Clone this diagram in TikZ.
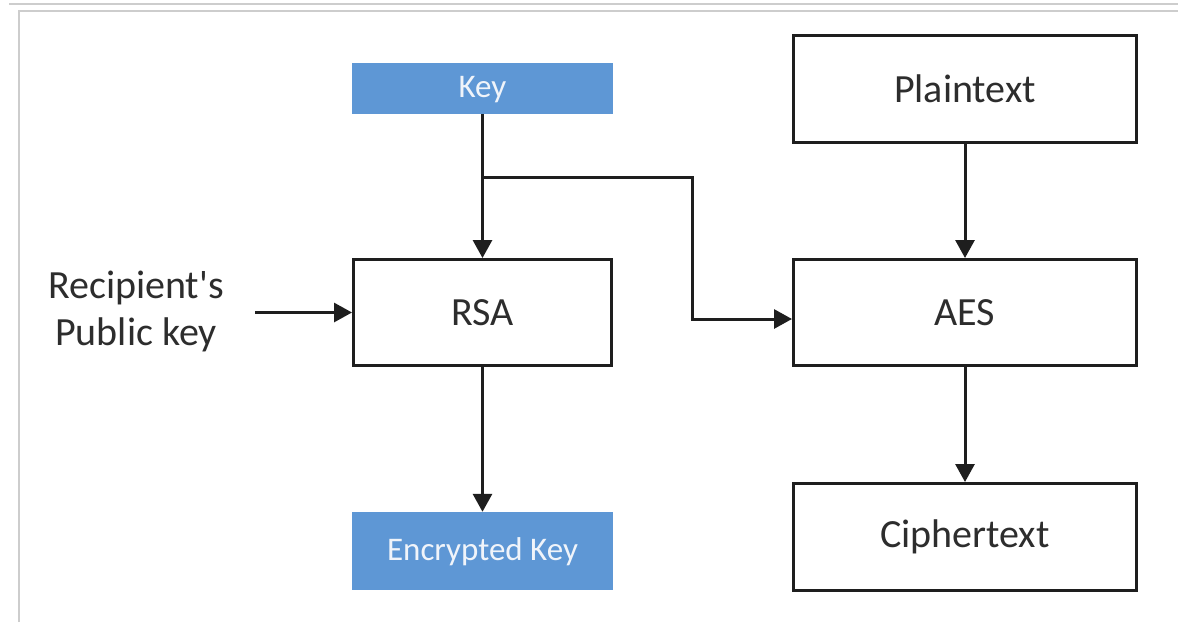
\documentclass[tikz,border=0pt]{standalone}
\usepackage{fontspec}
\setmainfont{Carlito}
\usetikzlibrary{arrows.meta}
\definecolor{keyblue}{RGB}{94,151,213}
\definecolor{edge}{RGB}{30,30,30}
\definecolor{ink}{RGB}{45,45,45}
\definecolor{frame}{RGB}{205,205,205}
% straight typewriter apostrophe, taken as a glyph so no quote mapping applies
\newcommand{\straightquote}{\XeTeXglyph\XeTeXcharglyph"27\relax}
\tikzset{
  procbox/.style={draw=edge, line width=3pt, fill=white, rectangle, inner sep=0pt,
    text=ink, font=\fontsize{40}{47}\selectfont},
  keybox/.style={fill=keyblue, rectangle, inner sep=0pt, text={rgb,255:red,240;green,244;blue,250},
    font=\fontsize{33}{38}\selectfont, text height=25pt, text depth=6.5pt},
  flow/.style={draw=edge, line width=3pt, -{Triangle[length=18pt,width=19pt]}}
}
\begin{document}
\begin{tikzpicture}[x=1pt,y=-1pt]
  \useasboundingbox (0,0) rectangle (1178,622);
  % page rules
  \fill[white] (0,0) rectangle (1178,622);
  \draw[frame, line width=1.5pt] (9,4) -- (1178,4);
  \draw[frame, line width=1.5pt] (19,622) -- (19,11) -- (1178,11);

  % left column
  \node[keybox, minimum width=261pt, minimum height=51pt] (key) at (482.5,88.5) {Key};
  \node[procbox, minimum width=258pt, minimum height=106pt] (rsa) at (482.5,312.5) {RSA};
  \node[keybox, minimum width=261pt, minimum height=78pt] (enc) at (482.5,551) {Encrypted Key};
  \node[text=ink, font=\fontsize{40}{47}\selectfont, align=center, inner sep=0pt] (pub) at (136,311)
    {Recipient\straightquote s\\Public key};

  % right column
  \node[procbox, minimum width=343pt, minimum height=107pt] (plain) at (965,89) {Plaintext};
  \node[procbox, minimum width=343pt, minimum height=106pt] (aes) at (965,312.5) {AES};
  \node[procbox, minimum width=343pt, minimum height=107pt] (cipher) at (965,537) {Ciphertext};

  % connectors
  \coordinate (split) at (482.5,177);
  \coordinate (pubend) at (255,312.5);
  \draw[flow] (key.south) -- (rsa.north);
  \draw[flow] (split) -- (692,177) -- (692,319) -- (aes.west |- 0,319);
  \draw[flow] (pubend) -- (rsa.west);
  \draw[flow] (rsa.south) -- (enc.north);
  \draw[flow] (plain.south) -- (aes.north);
  \draw[flow] (aes.south) -- (cipher.north);
\end{tikzpicture}
\end{document}
